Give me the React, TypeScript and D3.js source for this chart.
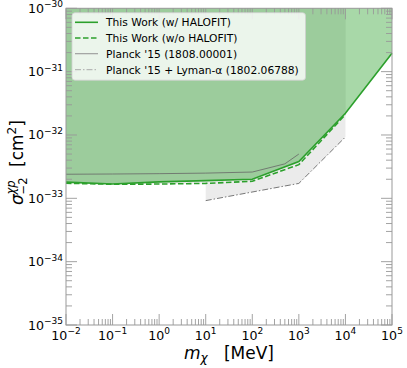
import React from "react";
import * as d3 from "d3";

// exclusion curves (m in MeV, sigma in cm^2)
const massHalofit = [1e-2, 1e-1, 1, 1e1, 1e2, 1e3, 1e4, 1e5];
const sigmaHalofit = [1.8e-33, 1.68e-33, 1.82e-33, 1.9e-33, 2.0e-33, 3.8e-33, 2.2e-32, 1.95e-31];

const massNoHalofit = [1e-2, 1e-1, 1, 1e1, 1e2, 1e3, 1e4];
const sigmaNoHalofit = [1.73e-33, 1.67e-33, 1.68e-33, 1.72e-33, 1.86e-33, 3.4e-33, 2.1e-32];

const massPlanck = [1e-2, 1e-1, 1, 1e1, 1e2, 5e2, 1e3];
const sigmaPlanck = [2.4e-33, 2.42e-33, 2.45e-33, 2.5e-33, 2.6e-33, 3.5e-33, 5.0e-33];

const massLyman = [1e1, 1e3, 1e4];
const sigmaLyman = [9.2e-34, 1.72e-33, 9.3e-33];

const xTickExps = [-2, -1, 0, 1, 2, 3, 4, 5];
const yTickExps = [-35, -34, -33, -32, -31, -30];

const legendLabels = [
  "This Work (w/ HALOFIT)",
  "This Work (w/o HALOFIT)",
  "Planck '15 (1808.00001)",
  "Planck '15 + Lyman-\u03b1 (1802.06788)",
];

const W = 407;
const H = 368;
const left = 66;
const right = 392;
const top = 8.3;
const bottom = 325;

const GREEN = "#2ca02c";
const GREY_FILL = "#ebebeb";
const AXIS = "#999999";
const FONT = "DejaVu Sans, sans-serif";

const zip = (xs: number[], ys: number[]) => xs.map((x, i) => [x, ys[i]] as [number, number]);

const minus = (n: number) => (n < 0 ? "\u2212" + Math.abs(n) : String(n));

export default function App() {
  const x = d3.scaleLog().domain([1e-2, 1e5]).range([left, right]);
  const y = d3.scaleLog().domain([1e-35, 1e-30]).range([bottom, top]);

  const line = d3
    .line<[number, number]>()
    .x((d) => x(d[0]))
    .y((d) => y(d[1]));

  // fill from a curve up to the top of the axes
  const area = d3
    .area<[number, number]>()
    .x((d) => x(d[0]))
    .y0(y(1e-30))
    .y1((d) => y(d[1]));

  const halofit = zip(massHalofit, sigmaHalofit);
  const noHalofit = zip(massNoHalofit, sigmaNoHalofit);
  const planck = zip(massPlanck, sigmaPlanck);
  const lyman = zip(massLyman, sigmaLyman);

  // tick positions (major decades + minor 2..9)
  const minorX: number[] = [];
  xTickExps.slice(0, -1).forEach((e) => {
    for (let k = 2; k <= 9; k++) minorX.push(k * Math.pow(10, e));
  });
  const minorY: number[] = [];
  yTickExps.slice(0, -1).forEach((e) => {
    for (let k = 2; k <= 9; k++) minorY.push(k * Math.pow(10, e));
  });

  const major = 11;
  const minor = 6;

  const legendRows = [22.3, 38, 53.7, 69.7];

  return (
    <svg
      width={W}
      height={H}
      style={{ position: "absolute", left: 0, top: 0, background: "#fff" }}
      fontFamily={FONT}
    >
      {/* grey regions underneath, green exclusion on top */}
      <path d={area(noHalofit) ?? ""} fill={GREY_FILL} />
      <path d={area(planck) ?? ""} fill={GREY_FILL} />
      <path d={area(lyman) ?? ""} fill={GREY_FILL} />
      <path d={area(halofit) ?? ""} fill={GREEN} fillOpacity={0.41} />

      {/* curves */}
      <path d={line(planck) ?? ""} fill="none" stroke="#666" strokeOpacity={0.8} strokeWidth={1} />
      <path
        d={line(lyman) ?? ""}
        fill="none"
        stroke="#777"
        strokeWidth={1}
        strokeDasharray="6,2,1.5,2"
      />
      <path d={line(noHalofit) ?? ""} fill="none" stroke={GREEN} strokeWidth={1.6} strokeDasharray="5.5,2.5" />
      <path d={line(halofit) ?? ""} fill="none" stroke={GREEN} strokeWidth={1.6} />

      {/* ticks, inward on all sides */}
      <g stroke={AXIS} strokeWidth={0.9}>
        {xTickExps.map((e) => {
          const px = x(Math.pow(10, e));
          return (
            <g key={"xt" + e}>
              <line x1={px} x2={px} y1={bottom} y2={bottom - major} />
              <line x1={px} x2={px} y1={top} y2={top + major} />
            </g>
          );
        })}
        {minorX.map((v) => (
          <g key={"xm" + v}>
            <line x1={x(v)} x2={x(v)} y1={bottom} y2={bottom - minor} />
            <line x1={x(v)} x2={x(v)} y1={top} y2={top + minor} />
          </g>
        ))}
        {yTickExps.map((e) => {
          const py = y(Math.pow(10, e));
          return (
            <g key={"yt" + e}>
              <line x1={left} x2={left + major} y1={py} y2={py} />
              <line x1={right} x2={right - major} y1={py} y2={py} />
            </g>
          );
        })}
        {minorY.map((v) => (
          <g key={"ym" + v}>
            <line x1={left} x2={left + minor} y1={y(v)} y2={y(v)} />
            <line x1={right} x2={right - minor} y1={y(v)} y2={y(v)} />
          </g>
        ))}
      </g>
      <rect x={left} y={top} width={right - left} height={bottom - top} fill="none" stroke={AXIS} strokeWidth={1} />

      {/* tick labels */}
      {xTickExps.map((e) => (
        <text key={"xl" + e} x={x(Math.pow(10, e))} y={339.5} textAnchor="middle" fontSize={12.6} fill="#000">
          10
          <tspan dy={-5.5} fontSize={9}>
            {minus(e)}
          </tspan>
        </text>
      ))}
      {yTickExps.map((e) => (
        <text key={"yl" + e} x={63} y={y(Math.pow(10, e)) + 4.5} textAnchor="end" fontSize={12.6} fill="#000">
          10
          <tspan dy={-5.5} fontSize={9}>
            {minus(e)}
          </tspan>
        </text>
      ))}

      {/* axis labels */}
      <text x={229} y={359} textAnchor="middle" fontSize={17} fill="#000">
        <tspan fontStyle="italic">m</tspan>
        <tspan fontStyle="italic" fontSize={12} dy={3}>
          {"\u03c7"}
        </tspan>
        <tspan dy={-3} xmlSpace="preserve">{"   [MeV]"}</tspan>
      </text>
      <g transform="translate(23,163) rotate(-90)" fill="#000">
        <text x={-42} y={0} fontSize={17} fontStyle="italic">
          {"\u03c3"}
        </text>
        <text x={-31.5} y={-8} fontSize={11.5} fontStyle="italic">
          {"\u03c7p"}
        </text>
        <text x={-31.5} y={4} fontSize={11.5}>
          {"\u22122"}
        </text>
        <text x={-4} y={0} fontSize={17}>
          [cm
          <tspan dy={-7} fontSize={12}>
            2
          </tspan>
          <tspan dy={7}>]</tspan>
        </text>
      </g>

      {/* legend */}
      <rect x={72} y={12.7} width={233.5} height={67.5} rx={3} fill="#fff" fillOpacity={0.8} stroke="#d0d0d0" strokeWidth={0.8} />
      <line x1={75} x2={98} y1={legendRows[0]} y2={legendRows[0]} stroke={GREEN} strokeWidth={1.6} />
      <line x1={75} x2={98} y1={legendRows[1]} y2={legendRows[1]} stroke={GREEN} strokeWidth={1.6} strokeDasharray="5.5,2.5" />
      <line x1={75} x2={98} y1={legendRows[2]} y2={legendRows[2]} stroke="#999" strokeWidth={1.1} />
      <line x1={75} x2={98} y1={legendRows[3]} y2={legendRows[3]} stroke="#aaa" strokeWidth={1} strokeDasharray="6,2,1.5,2" />
      {legendLabels.map((t, i) => (
        <text key={t} x={106} y={legendRows[i] + 3.8} fontSize={10.7} fill="#000">
          {t}
        </text>
      ))}
    </svg>
  );
}
